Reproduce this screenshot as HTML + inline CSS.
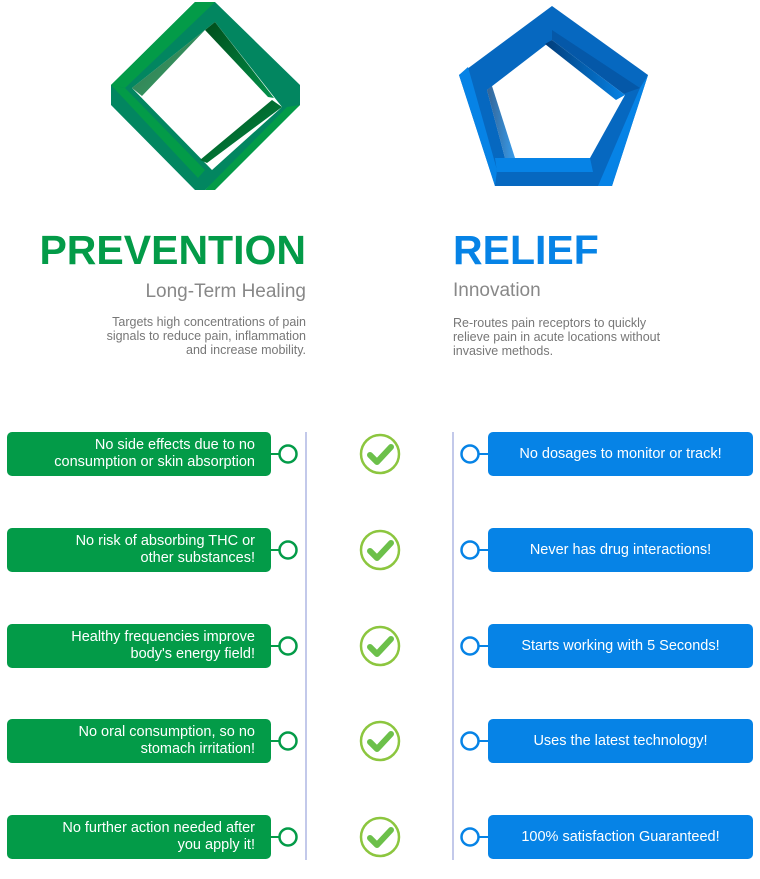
<!DOCTYPE html>
<html><head><style>
body{margin:0;width:760px;height:879px;background:#fff;position:relative;font-family:"Liberation Sans",sans-serif;overflow:hidden}
.a{position:absolute}
.g{background:#039b48;color:#fff;left:7px;width:264px;height:44px;border-radius:5px;font-size:14.5px;text-align:right;box-sizing:border-box;padding-right:16px;display:flex;flex-direction:column;justify-content:center;line-height:17px}
.b{background:#0683e6;color:#fff;left:488px;width:265px;height:44px;border-radius:5px;font-size:14.5px;text-align:center;display:flex;align-items:center;justify-content:center}
</style></head><body>
<svg class="a" style="left:0;top:0" width="760" height="879">
<defs>
<linearGradient id="gg" x1="0" y1="0" x2="1" y2="1"><stop offset="0" stop-color="#004d1a"/><stop offset="1" stop-color="#02904a"/></linearGradient>
<linearGradient id="bg" x1="0" y1="0" x2="1" y2="0"><stop offset="0" stop-color="#023d7a"/><stop offset="1" stop-color="#0683e6"/></linearGradient>
</defs>
<polygon points="195,2 215,2 300,85 300,105 205,190 195,190 111,105 111,85" fill="#028660"/>
<polygon points="195,2 215,2 125,88 111,85" fill="#039b48"/>
<polygon points="111,85 125,88 205,170 198,178" fill="#039b48"/>
<polygon points="300,105 287,107 205,190 215,190" fill="#039b48"/>
<polygon points="215,22 282,107 212,170 132,88" fill="#fff"/>
<polygon points="215,22 205,30 268,97 274,98" fill="url(#gg)"/>
<polygon points="132,88 142,96 205,30 215,22" fill="url(#gg)" opacity="0.8"/>
<polygon points="282,107 272,100 200,160 207,163" fill="url(#gg)"/>
<polygon points="552,6 648,75 612,186 495,186 459,75" fill="#0668c0"/>
<polygon points="459,75 468,67 497,170 495,186" fill="#0683e6"/>
<polygon points="640,88 648,75 612,186 598,186" fill="#0683e6"/>
<polygon points="495,158 590,158 593,172 497,172" fill="#0683e6"/>
<polygon points="552,30 640,88 620,95 552,40" fill="#0558a8"/>
<polygon points="552,40 625,95 590,158 505,158 487,90" fill="#fff"/>
<polygon points="552,40 545,44 616,100 625,95" fill="url(#bg)"/>
<polygon points="487,90 492,86 515,158 505,158" fill="url(#bg)" opacity="0.8"/>
<line x1="306" y1="432" x2="306" y2="860" stroke="#c3c9ea" stroke-width="2"/>
<line x1="453" y1="432" x2="453" y2="860" stroke="#c3c9ea" stroke-width="2"/>
<g id="rows"></g>
</svg>
<div class="a" style="right:454px;top:227px;font-size:41px;font-weight:bold;color:#039b48">PREVENTION</div>
<div class="a" style="right:454px;top:281px;font-size:19px;color:#888">Long-Term Healing</div>
<div class="a" style="right:454px;top:315px;font-size:12.5px;color:#777;text-align:right;line-height:14px">Targets high concentrations of pain<br>signals to reduce pain, inflammation<br>and increase mobility.</div>
<div class="a" style="left:453px;top:227px;font-size:41px;font-weight:bold;color:#0683e6">RELIEF</div>
<div class="a" style="left:453px;top:280px;font-size:19px;color:#888">Innovation</div>
<div class="a" style="left:453px;top:316px;font-size:12.5px;color:#777;line-height:14px">Re-routes pain receptors to quickly<br>relieve pain in acute locations without<br>invasive methods.</div>

<div class="a g" style="top:432px"><div>No side effects due to no</div><div>consumption or skin absorption</div></div>
<div class="a g" style="top:528px"><div>No risk of absorbing THC or</div><div>other substances!</div></div>
<div class="a g" style="top:624px"><div>Healthy frequencies improve</div><div>body's energy field!</div></div>
<div class="a g" style="top:719px"><div>No oral consumption, so no</div><div>stomach irritation!</div></div>
<div class="a g" style="top:815px"><div>No further action needed after</div><div>you apply it!</div></div>
<div class="a b" style="top:432px">No dosages to monitor or track!</div>
<div class="a b" style="top:528px">Never has drug interactions!</div>
<div class="a b" style="top:624px">Starts working with 5 Seconds!</div>
<div class="a b" style="top:719px">Uses the latest technology!</div>
<div class="a b" style="top:815px">100% satisfaction Guaranteed!</div>
<script>
var ys=[454,550,646,741,837],s='';
ys.forEach(function(y){
s+='<line x1="271" y1="'+y+'" x2="280" y2="'+y+'" stroke="#039b48" stroke-width="2"/><circle cx="288" cy="'+y+'" r="8.5" fill="#fff" stroke="#039b48" stroke-width="2.5"/>';
s+='<line x1="478" y1="'+y+'" x2="488" y2="'+y+'" stroke="#0683e6" stroke-width="2"/><circle cx="470" cy="'+y+'" r="8.5" fill="#fff" stroke="#0683e6" stroke-width="2.5"/>';
s+='<circle cx="380" cy="'+y+'" r="19" fill="#fff" stroke="#8cc63f" stroke-width="2.5"/><polyline points="370,'+(y+1)+' 377,'+(y+8)+' 391,'+(y-7)+'" fill="none" stroke="#6cc04a" stroke-width="6" stroke-linecap="round" stroke-linejoin="round"/>';
});
document.getElementById('rows').innerHTML=s;
</script>
</body></html>
